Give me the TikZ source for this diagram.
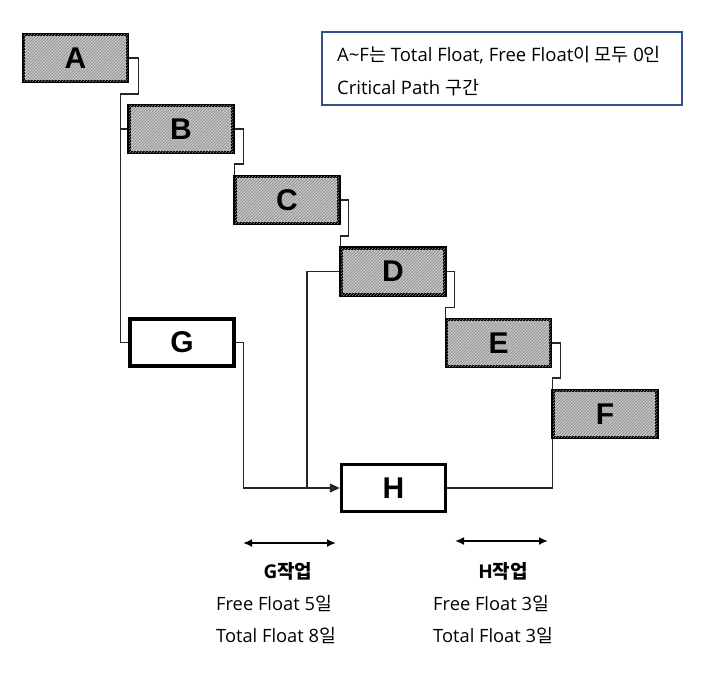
\documentclass[tikz,border=0pt]{standalone}
\usepackage{fontspec}
\setmainfont{Open Sans}
\newfontfamily\kr{Noto Sans CJK KR}
\newfontfamily\boxfont{Liberation Sans}
\usetikzlibrary{arrows.meta,patterns}
\definecolor{legendblue}{HTML}{2F4F8F}
\definecolor{hatchfill}{HTML}{C4C4C4}
\definecolor{hatchline}{HTML}{8A8A8A}
\tikzset{
  task/.style={draw=black, line width=3.5pt, minimum width=104pt, minimum height=47pt,
    inner sep=0pt, font=\boxfont\bfseries\fontsize{30}{30}\selectfont},
  crit/.style={task, fill=hatchfill, postaction={pattern=north east lines, pattern color=hatchline}},
  noncrit/.style={task, fill=white},
  link/.style={draw=black!85, line width=1.4pt},
  span/.style={line width=2.8pt, {Latex[length=9pt,width=8pt]}-{Latex[length=9pt,width=8pt]}},
  note/.style={anchor=west, inner sep=0pt, font=\fontsize{18.3}{20}\selectfont},
  head/.style={inner sep=0pt, font=\bfseries\fontsize{19}{20}\selectfont},
  legend/.style={anchor=west, inner sep=0pt, font=\fontsize{18.5}{20}\selectfont}
}
\begin{document}
\begin{tikzpicture}[x=1pt,y=-1pt]
\useasboundingbox[fill=white] (0,0) rectangle (727,672);
% tasks
\node[crit] (A) at (75.5,58) {A};
\node[crit] (B) at (181,129) {B};
\node[crit] (C) at (287,200) {C};
\node[crit] (D) at (393,271.5) {D};
\node[crit] (E) at (498.5,343) {E};
\node[crit] (F) at (605,414) {F};
\node[noncrit] (G) at (182,342.5) {G};
\node[noncrit] (H) at (393.5,488) {H};
% critical chain connectors
\draw[link] (A.east) -- ++(9,0) -- ++(0,36) -| ([xshift=-7pt]B.west) -- (B.west);
\draw[link] ([xshift=-7pt]B.west) |- (G.west);
\draw[link] (B.east) -- ++(9,0) -- ++(0,35) -| ([xshift=1pt]C.north west);
\draw[link] (C.east) -- ++(8,0) -- ++(0,36) -| ([xshift=1pt]D.north west);
\draw[link] (D.east) -- ++(8,0) -- ++(0,36) -| ([xshift=1pt]E.north west);
\draw[link] (E.east) -- ++(8,0) -- ++(0,35) -| ([xshift=1pt]F.north west);
% into H
\coordinate (J) at (307,488);
\draw[link] (F.south west) ++(1pt,0) |- (H.east);
\draw[link] (G.east) -- ++(8,0) |- (J);
\draw[link,-{Triangle[length=10pt,width=9pt]}] (D.west) -| (J) -- (H.west);
% legend
\draw[legendblue, line width=1.8pt] (322,32) rectangle (682,105);
\node[legend] (L1) at (337,55) {A\textasciitilde F{\kr 는} Total Float, Free Float{\kr 이 모두} 0{\kr 인}};
\node[legend] (L2) at (337,88) {Critical Path {\kr 구간}};
% float spans
\coordinate (g1) at (243,543); \coordinate (g2) at (336,543);
\coordinate (h1) at (455,541); \coordinate (h2) at (548,541);
\draw[span] (g1) -- (g2);
\draw[span] (h1) -- (h2);
\node[head] (GT) at (288,571) {G{\kr\bfseries 작업}};
\node[head] (HT) at (503,571) {H{\kr\bfseries 작업}};
\node[note] (G1) at (216,604) {Free Float 5{\kr 일}};
\node[note] (G2) at (216,636) {Total Float 8{\kr 일}};
\node[note] (H1) at (433,604) {Free Float 3{\kr 일}};
\node[note] (H2) at (433,636) {Total Float 3{\kr 일}};
\end{tikzpicture}
\end{document}
